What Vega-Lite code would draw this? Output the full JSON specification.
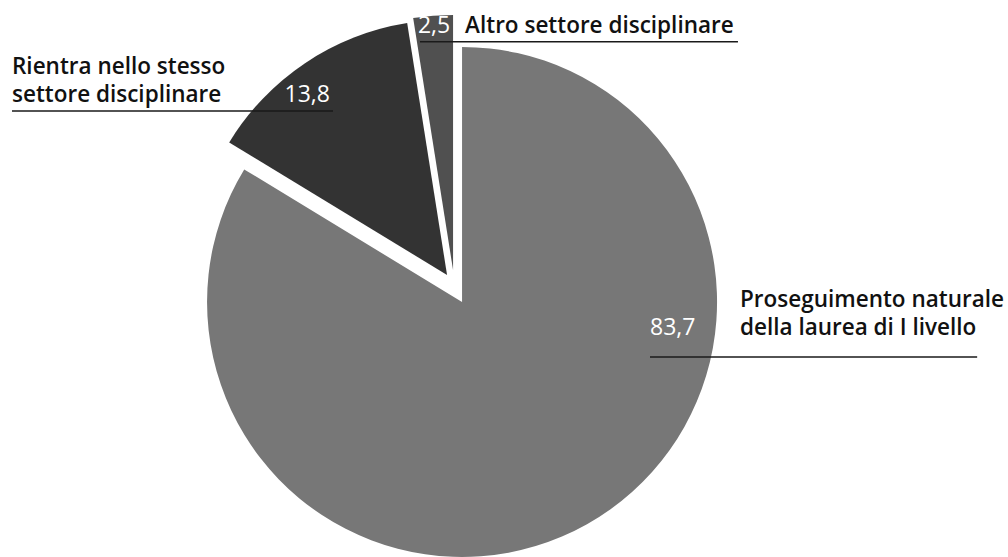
{
  "$schema": "https://vega.github.io/schema/vega-lite/v6.json",
  "width": 1008,
  "height": 557,
  "padding": 0,
  "autosize": {"type": "none"},
  "background": "#ffffff",
  "config": {
    "view": {"stroke": null},
    "locale": {"number": {"decimal": ",", "thousands": ".", "grouping": [3], "currency": ["", " €"]}},
    "text": {"font": "Open Sans"}
  },
  "data": {
    "values": [
      {"id": "prosegue", "label": "Proseguimento naturale\ndella laurea di I livello", "value": 83.7},
      {"id": "stesso", "label": "Rientra nello stesso\nsettore disciplinare", "value": 13.8},
      {"id": "altro", "label": "Altro settore disciplinare", "value": 2.5}
    ]
  },
  "layer": [
    {
      "mark": {
        "type": "arc",
        "outerRadius": 255,
        "xOffset": {"expr": "datum.id === 'stesso' ? -15 : datum.id === 'altro' ? -9 : 0"},
        "yOffset": {"expr": "datum.id === 'stesso' ? -27 : datum.id === 'altro' ? -32 : 0"}
      },
      "encoding": {
        "theta": {"field": "value", "type": "quantitative", "stack": true},
        "order": {"field": "value", "sort": "descending"},
        "color": {"field": "id", "type": "nominal", "legend": null,
          "scale": {"domain": ["prosegue", "stesso", "altro"], "range": ["#777777", "#333333", "#505050"]}},
        "x": {"datum": 0, "type": "quantitative", "axis": null, "scale": {"domain": [-1.812, 2.141], "nice": false, "zero": false}},
        "y": {"datum": 0, "type": "quantitative", "axis": null, "scale": {"domain": [-1.0, 1.184], "nice": false, "zero": false}}
      }
    },
    {
      "transform": [{"filter": "datum.id === 'altro'"}],
      "mark": {"type": "rule", "color": "#1a1a1a", "strokeWidth": 1.5},
      "encoding": {
        "x": {"datum": -0.165, "type": "quantitative"},
        "x2": {"datum": 1.082},
        "y": {"datum": 1.02, "type": "quantitative"}
      }
    },
    {
      "transform": [{"filter": "datum.id === 'stesso'"}],
      "mark": {"type": "rule", "color": "#1a1a1a", "strokeWidth": 1.5},
      "encoding": {
        "x": {"datum": -1.765, "type": "quantitative"},
        "x2": {"datum": -0.506},
        "y": {"datum": 0.749, "type": "quantitative"}
      }
    },
    {
      "transform": [{"filter": "datum.id === 'prosegue'"}],
      "mark": {"type": "rule", "color": "#1a1a1a", "strokeWidth": 1.5},
      "encoding": {
        "x": {"datum": 0.737, "type": "quantitative"},
        "x2": {"datum": 2.02},
        "y": {"datum": -0.216, "type": "quantitative"}
      }
    },
    {
      "transform": [{"filter": "datum.id === 'altro'"}],
      "mark": {"type": "text", "align": "left", "baseline": "alphabetic", "fontSize": 22.5, "fontWeight": 600, "color": "#111111"},
      "encoding": {
        "text": {"field": "label"},
        "x": {"datum": 0.012, "type": "quantitative"},
        "y": {"datum": 1.055, "type": "quantitative"}
      }
    },
    {
      "transform": [{"filter": "datum.id === 'stesso'"}],
      "mark": {"type": "text", "align": "left", "baseline": "alphabetic", "fontSize": 22.5, "fontWeight": 600, "color": "#111111", "lineBreak": "\n", "lineHeight": 28},
      "encoding": {
        "text": {"field": "label"},
        "x": {"datum": -1.765, "type": "quantitative"},
        "y": {"datum": 0.892, "type": "quantitative"}
      }
    },
    {
      "transform": [{"filter": "datum.id === 'prosegue'"}],
      "mark": {"type": "text", "align": "left", "baseline": "alphabetic", "fontSize": 22.5, "fontWeight": 600, "color": "#111111", "lineBreak": "\n", "lineHeight": 28},
      "encoding": {
        "text": {"field": "label"},
        "x": {"datum": 1.09, "type": "quantitative"},
        "y": {"datum": -0.02, "type": "quantitative"}
      }
    },
    {
      "transform": [{"filter": "datum.id === 'altro'"}],
      "mark": {"type": "text", "align": "left", "baseline": "alphabetic", "fontSize": 23, "fontWeight": 500, "color": "#ffffff"},
      "encoding": {
        "text": {"field": "value", "type": "quantitative", "format": ".1f"},
        "x": {"datum": -0.173, "type": "quantitative"},
        "y": {"datum": 1.055, "type": "quantitative"}
      }
    },
    {
      "transform": [{"filter": "datum.id === 'stesso'"}],
      "mark": {"type": "text", "align": "right", "baseline": "alphabetic", "fontSize": 23, "fontWeight": 500, "color": "#ffffff"},
      "encoding": {
        "text": {"field": "value", "type": "quantitative", "format": ".1f"},
        "x": {"datum": -0.518, "type": "quantitative"},
        "y": {"datum": 0.784, "type": "quantitative"}
      }
    },
    {
      "transform": [{"filter": "datum.id === 'prosegue'"}],
      "mark": {"type": "text", "align": "left", "baseline": "alphabetic", "fontSize": 23, "fontWeight": 500, "color": "#ffffff"},
      "encoding": {
        "text": {"field": "value", "type": "quantitative", "format": ".1f"},
        "x": {"datum": 0.737, "type": "quantitative"},
        "y": {"datum": -0.129, "type": "quantitative"}
      }
    }
  ]
}
